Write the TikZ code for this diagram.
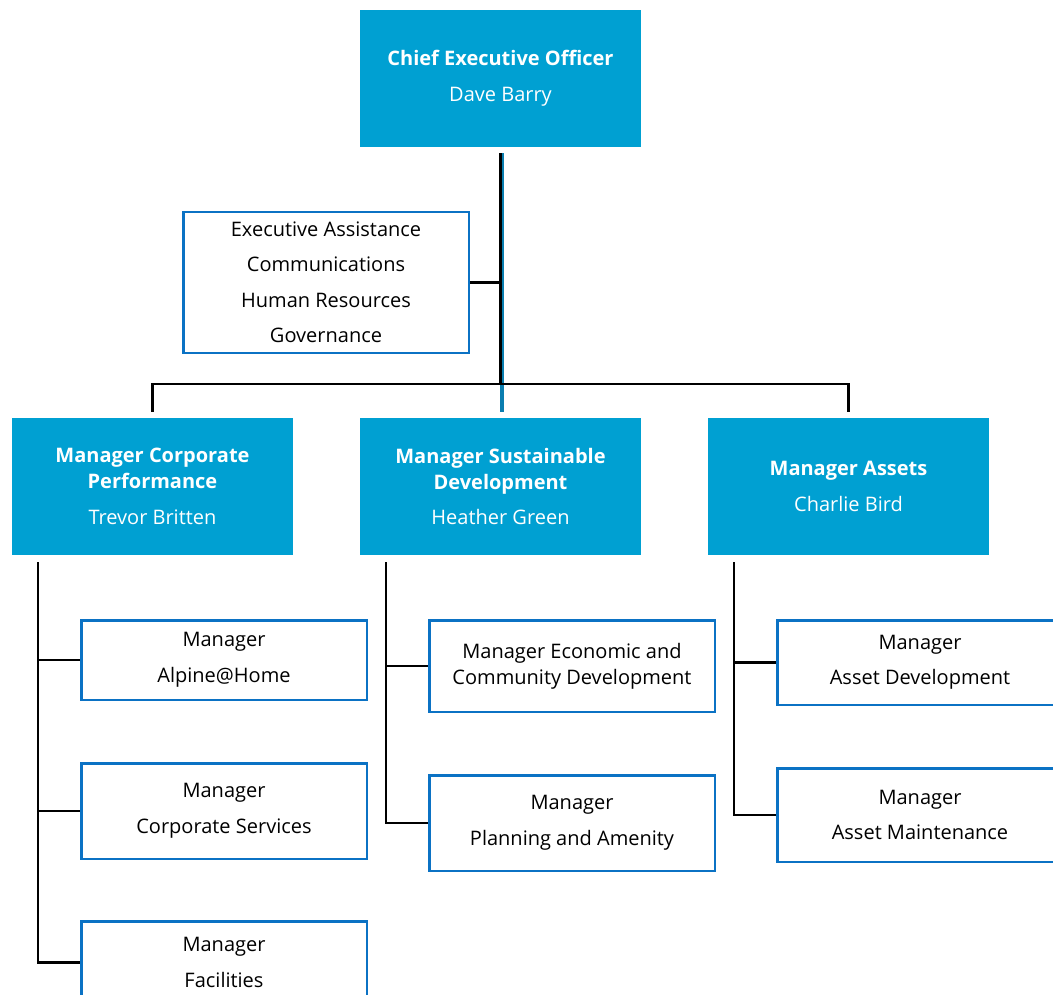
\documentclass[tikz,border=0pt]{standalone}
\usepackage{fontspec}
\setmainfont{Open Sans}
\usetikzlibrary{positioning,calc}
\definecolor{HeadBlue}{HTML}{00A0D2}
\definecolor{EdgeBlue}{HTML}{0B72C4}
\definecolor{TrunkBlue}{HTML}{0A7EB0}

\begin{document}
\begin{tikzpicture}[
  x=1pt, y=-1pt,
  node distance=61pt,
  head/.style={fill=HeadBlue, text=white, align=center, inner sep=0pt, minimum width=281pt, minimum height=137pt, font=\fontsize{20}{26}\selectfont, execute at begin node={\rule{0pt}{21pt}}},
  unit/.style={draw=EdgeBlue, line width=2.5pt, fill=white, align=center, inner sep=0pt, minimum width=285.5pt, font=\fontsize{20}{26}\selectfont, execute at begin node={\rule{0pt}{21pt}}},
  link/.style={line width=2.8pt, draw=black}
]
\useasboundingbox (0,0) rectangle (1053,995);
\clip (0,0) rectangle (1053,995);

% top level
\node[head] (ceo) at (500.5,78.5) {\textbf{Chief Executive Officer}\\[9.5pt]Dave Barry};
\node[unit, minimum height=140.5pt] (staff) at (326,282.5) {Executive Assistance\\[9.5pt]Communications\\[9.5pt]Human Resources\\[9.5pt]Governance};

% managers
\node[head] (mcp) at (152.5,486.5) {\textbf{Manager Corporate}\\\textbf{Performance}\\[9.5pt]Trevor Britten};
\node[head] (msd) at (500.5,486.5) {\textbf{Manager Sustainable}\\\textbf{Development}\\[9.5pt]Heather Green};
\node[head] (ma) at (848.5,486.5) {\textbf{Manager Assets}\\[9.5pt]Charlie Bird};

% corporate performance units
\node[unit, minimum height=79.5pt] (alpine) at (224,660) {Manager\\[9.5pt]Alpine@Home};
\node[unit, minimum height=95.5pt, below=of alpine] (corpsvc) {Manager\\[9.5pt]Corporate Services};
\node[unit, minimum height=82pt, below=60pt of corpsvc] (facil) {Manager\\[9.5pt]Facilities};

% sustainable development units
\node[unit, minimum height=91.5pt] (econ) at (572,666) {Manager Economic and\\Community Development};
\node[unit, minimum height=95.5pt, below=of econ] (plan) {Manager\\[9.5pt]Planning and Amenity};

% assets units
\node[unit, minimum height=84.5pt] (assetdev) at (920,662.5) {Manager\\[9.5pt]Asset Development};
\node[unit, minimum height=93.5pt, below=of assetdev] (assetmnt) {Manager\\[9.5pt]Asset Maintenance};

% connectors
\coordinate (bar) at (500.5,384);
\draw[line width=4pt, TrunkBlue] ([xshift=1pt,yshift=-6pt]ceo.south) -- ([xshift=1pt,yshift=6pt]msd.north);
\draw[link] ([yshift=-6pt]ceo.south) -- (bar);
\draw[link] (staff.east) -- (staff.east -| bar);
\draw[link] ([yshift=6pt]mcp.north) |- (bar) -| ([yshift=6pt]ma.north);

\coordinate (mcptrunk) at (38,562);
\coordinate (msdtrunk) at (386,562);
\coordinate (matrunk) at (734,562);
\draw[link] (mcptrunk) |- (alpine.west);
\draw[link] (mcptrunk) |- (corpsvc.west);
\draw[link] (mcptrunk) |- (facil.west);
\draw[link] (msdtrunk) |- (econ.west);
\draw[link] (msdtrunk) |- (plan.west);
\draw[link] (matrunk) |- (assetdev.west);
\draw[link] (matrunk) |- (assetmnt.west);
\end{tikzpicture}
\end{document}
